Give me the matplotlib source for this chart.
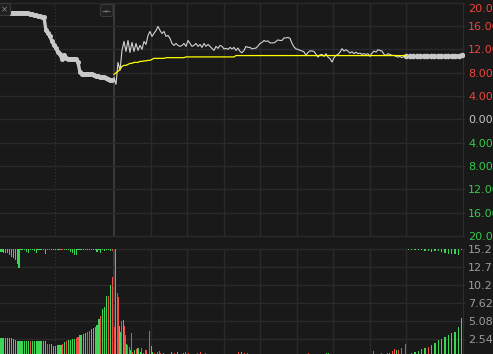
import numpy as np
import matplotlib
matplotlib.use("Agg")
import matplotlib.pyplot as plt
from matplotlib.patches import FancyBboxPatch
from matplotlib.transforms import blended_transform_factory, ScaledTranslation

# ---------------- data ----------------
# price change (%) during the opening call auction 9:15-9:25
auction_pct = [18.24, 18.24, 18.24, 18.24, 18.24, 18.24, 18.24, 18.24, 18.24, 18.24,
               18.24, 18.24, 18.21, 18.21, 18.15, 18.03, 17.95, 17.86, 17.78, 17.69,
               17.61, 17.52, 17.44, 15.21, 14.70, 14.19, 13.33, 12.65, 12.14, 11.45,
               11.11, 10.26, 10.94, 10.43, 10.38, 10.38, 10.38, 10.38, 10.38, 9.74,
               8.03, 7.78, 7.78, 7.78, 7.78, 7.69, 7.69, 7.61, 7.44, 7.35,
               7.26, 7.18, 7.18, 7.01, 6.84, 6.75, 6.67]

# price change (%) during continuous trading (9:30-15:00)
session_pct = [7.18, 5.98, 9.74, 8.38, 11.79, 13.33, 11.62, 13.50, 11.45, 13.16,
               11.62, 12.99, 11.79, 12.65, 11.97, 13.33, 12.82, 14.36, 15.04, 14.19,
               14.70, 15.21, 15.90, 15.21, 14.70, 15.04, 14.19, 14.36, 13.85, 12.99,
               12.65, 12.99, 12.65, 12.48, 12.65, 12.99, 12.48, 13.50, 12.99, 12.48,
               12.65, 12.99, 12.48, 12.82, 12.31, 12.99, 12.48, 12.82, 12.48, 12.14,
               11.79, 12.48, 12.14, 12.65, 12.48, 12.05, 12.14, 11.97, 12.31, 12.05,
               12.31, 11.79, 12.19, 11.62, 11.40, 11.79, 12.48, 12.31, 12.31, 12.05,
               12.14, 12.19, 12.56, 12.99, 13.16, 13.50, 13.33, 13.42, 13.08, 13.08,
               13.08, 13.33, 13.59, 13.50, 13.50, 13.93, 13.93, 14.02, 13.85, 12.99,
               12.39, 12.05, 11.97, 11.79, 11.71, 11.54, 10.94, 11.45, 11.71, 11.71,
               11.62, 11.11, 10.65, 11.03, 11.11, 10.77, 11.23, 10.65, 10.38, 9.79,
               10.55, 10.94, 11.11, 11.50, 12.09, 11.68, 11.91, 11.68, 11.33, 11.57,
               11.23, 11.50, 11.23, 11.33, 11.11, 11.23, 11.11, 11.23, 10.77, 11.33,
               11.68, 11.50, 11.91, 11.79, 11.68, 11.11, 10.94, 11.23, 11.11, 10.94,
               10.94, 10.77, 10.65, 10.77, 10.55, 10.77, 10.89]

# average price change (%) during continuous trading
session_avg = ([7.69, 7.95, 8.21, 8.55, 9.06, 9.23, 9.23, 9.40, 9.57, 9.57,
                9.74, 9.74, 9.74, 9.91, 9.91, 10.00, 10.00, 10.09, 10.09, 10.26,
                10.43, 10.43, 10.43, 10.43, 10.43, 10.43]
               + [10.55] * 10 + [10.68] * 25 + [10.91] * 86)

# price change (%) during the closing call auction
close_pct = [10.77, 10.77, 10.77, 10.77, 10.77, 10.77, 10.77, 10.77, 10.77, 10.77,
             10.77, 10.77, 10.77, 10.77, 10.85, 10.89, 10.94]

# opening auction: matched volume, direction, unmatched volume
auction_vol = [2.64, 2.64, 2.64, 2.64, 2.64, 2.64, 2.6, 2.45, 2.4, 2.2,
               2.2, 2.2, 2.2, 2.2, 2.2, 2.2, 2.2, 2.2, 2.2, 2.2,
               2.2, 2.2, 2.2, 2.2, 2.2, 1.8, 1.8, 1.8, 1.55, 1.55,
               1.6, 1.6, 1.65, 1.75, 2.1, 2.2, 2.3, 2.4, 2.45, 2.5,
               2.7, 2.82, 3.1, 3.1, 3.2, 3.3, 3.5, 3.67, 3.9, 4.0,
               4.2, 4.5, 5.3, 5.7, 6.7, 7.05, 8.6, 8.6, 10.1, 11.3]
auction_dir = "ggggggggggggggggrggggggggrrggggggrgrggggrrggggrrgggggrgggrgr"
auction_unmatched = [0.4, 0.4, 0.6, 0.6, 0.6, 0.9, 1.15, 1.3, 1.6, 2.15,
                     2.7, 0.15, 0.15, 0.15, 0.4, 0.65, 0.15, 0.15, 0.3, 0.55,
                     0.15, 0.15, 0.15, 0.15, 0.7, 0.15, 0.15, 0.15, 0.15, 0.15,
                     0.15, 0.15, 0.15, 0.15, 0.15, 0.15, 0.15, 0.4, 0.55, 0.85,
                     0.85, 0.15, 0.15, 0.15, 0.15, 0.15, 0.15, 0.15, 0.15, 0.15,
                     0.15, 0.4, 0.15, 0.55, 0.15, 0.3, 0.15, 0.15, 0.3, 0.3]
auction_unmatched_dir = "gggggggggggggggggggggggggrrgggggrrgggggggggggggggggggggggggr"

# continuous trading: one bar per minute
session_vol = [4.15, 15.2, 9.0, 8.4, 4.3, 3.5, 5.0, 5.2, 4.4, 3.06, 1.8, 1.7, 1.4, 1.0, 3.3, 0.6, 0.9, 0.3, 1.1, 1.2,
               1.2, 0.7, 1.2, 0.3, 0.5, 1.0, 1.0, 0.3, 0.3, 3.6, 1.5, 0.6, 0.3, 0.56, 0.3, 0.66, 0.3, 0.85, 0.56, 0.3,
               0.56, 0.3, 0.2, 0.3, 0.2, 0.3, 0.2, 0.6, 0.3, 0.56, 0.2, 0.3, 0.7, 0.2, 0.3, 0.2, 0.3, 0.56, 0.66, 0.2,
               0.3, 0.56, 0.2, 0.3, 0.2, 0.2, 0.3, 0.2, 0.56, 0.3, 0.2, 0.66, 0.2, 0.3, 0.2, 0.56, 0.2, 0.3, 0.2, 0.2,
               0.3, 0.2, 0.2, 0.3, 0.2, 0.2, 0.3, 0.2, 0.2, 0.3, 0.2, 0.2, 0.3, 0.2, 0.2, 0.3, 0.2, 0.2, 0.3, 0.2,
               0.2, 0.3, 0.66, 0.2, 0.66, 0.3, 0.2, 0.47, 0.2, 0.5, 0.2, 0.3, 0.2, 0.2, 0.3, 0.2, 0.2, 0.3, 0.2, 0.2,
               0.3, 0.2, 0.2, 0.3, 0.2, 0.2, 0.3, 0.2, 0.2, 0.3, 0.2, 0.2, 0.3, 0.2, 0.2, 0.3, 0.2, 0.2, 0.3, 0.2,
               0.2, 0.3, 0.2, 0.2, 0.3, 0.2, 0.2, 0.3, 0.2, 0.2, 0.3, 0.2, 0.2, 0.3, 0.2, 0.2, 0.3, 0.2, 0.2, 0.56,
               0.2, 0.3, 0.2, 0.2, 0.3, 0.2, 0.2, 0.3, 0.2, 0.2, 0.3, 0.2, 0.2, 0.3, 0.56, 0.2, 0.56, 0.3, 0.2, 0.2,
               0.3, 0.2, 0.2, 0.3, 0.2, 0.2, 0.3, 0.2, 0.2, 0.3, 0.2, 0.2, 0.3, 0.2, 0.2, 0.3, 0.2, 0.2, 0.3, 0.2,
               0.2, 0.3, 0.2, 0.2, 0.3, 0.2, 0.2, 0.3, 0.2, 0.2, 0.3, 0.2, 0.2, 0.8, 0.2, 0.3, 0.2, 0.2, 0.3, 0.47,
               0.2, 0.3, 0.2, 0.3, 0.56, 0.3, 0.47, 0.3, 0.85, 0.3, 1.09, 0.3, 0.9, 0.94, 0.3, 0.3, 1.27, 0.3, 0.3, 1.79]
session_dir = ("rgrrggrgrrgrrgrrggrg" "ggrrrrrgrrggrrgrgrrg" "grgrgrggrrgrgrgrggrg"
               "rrgrgrgrrgrrgrgrgrgr" "rgrgrgrgrgrgrgrgrgrg" "rgrgggrrgrgrgrgrgrgr"
               "rgrgrgrgrgrgrgrgrgrg" "grgrgrgrgrgrgrgrgrgr" "rgrgrgrgrgrgrggrgrgr"
               "rgrgrgrgrgrgrgrgrgrg" "grgrgrgrgrgrgrgrgrgr" "rgrgrggrrgrggrgrrgrr")

# closing auction
close_vol = [0.4, 0.47, 0.66, 0.85, 1.04, 1.18, 1.41, 1.65, 1.98, 2.36,
             2.5, 2.82, 3.06, 3.3, 3.53, 4.15, 5.42]
close_dir = "ggggggrgggggggggg"
close_unmatched = [0.15, 0.15, 0.15, 0.15, 0.15, 0.3, 0.35, 0.4, 0.3, 0.35,
                   0.4, 0.6, 0.7, 0.75, 0.8, 0.9, 0.2]

pct_ticks = [20, 16, 12, 8, 4, 0, -4, -8, -12, -16, -20]
vol_step = 2.54
vol_ticks = [vol_step * k for k in range(1, 7)]

# ---------------- layout / style ----------------
W, H = 493, 354
PLOT_R = 464          # right edge of plotting area (px)
AUC_END = 114         # start of continuous session
SES_END = 406         # start of closing auction
PRICE_TOP, PRICE_BOT = 2.5, 236
VOL_TOP_PX = 248.7
VOL_PX_PER_STEP = 18

BG = "#191919"
GRID = "#2a2a2a"
RED = "#f24a45"
GREEN = "#3bd656"
LABEL_RED = "#f0443c"
LABEL_GREEN = "#35c94a"

fig = plt.figure(figsize=(W / 100, H / 100), dpi=100, facecolor=BG)

axp = fig.add_axes([0, (H - PRICE_BOT) / H, PLOT_R / W, (PRICE_BOT - PRICE_TOP) / H])
vol_top = vol_ticks[-1]
vol_bot = vol_top - (H - VOL_TOP_PX) * vol_step / VOL_PX_PER_STEP
axv = fig.add_axes([0, 0, PLOT_R / W, (H - VOL_TOP_PX) / H])

for ax in (axp, axv):
    ax.set_facecolor(BG)
    ax.set_xlim(0, PLOT_R)
    for s in ax.spines.values():
        s.set_visible(False)
    ax.set_xticks([])
    ax.set_yticks([])

axp.set_ylim(pct_ticks[-1], pct_ticks[0])
axv.set_ylim(vol_bot, vol_top)

# grids
half_hour = (SES_END - AUC_END) / 8
vlines = [AUC_END + k * half_hour for k in range(1, 9)]
for ax in (axp, axv):
    for xv in vlines:
        ax.axvline(xv, color=GRID, lw=1.0, zorder=1)
    ax.axvline(AUC_END, color="#3a3a3a", lw=1.4, zorder=1)
    ax.axvline(AUC_END / 2 - 2, color="#363636", lw=0.8, ls=(0, (1, 2)), zorder=1)
    ax.axvline(PLOT_R - 0.5, color="#333333", lw=1.2, zorder=1)
for t in pct_ticks:
    axp.axhline(t, color=GRID, lw=1.0, zorder=1, clip_on=False)
for t in vol_ticks:
    axv.axhline(t, color=GRID, lw=1.0, zorder=1, clip_on=False)

# price lines
n_a = len(auction_pct)
xa = np.linspace(0, AUC_END - 2, n_a)
axp.plot(xa, auction_pct, color="#c8c8c8", lw=2.4, marker="o", ms=2.6,
         solid_capstyle="round", zorder=3)
xs = np.linspace(AUC_END, SES_END, len(session_pct))
axp.plot(xs, session_pct, color="#d2d2d2", lw=0.8, zorder=4)
axp.plot(np.linspace(AUC_END, SES_END, len(session_avg)), session_avg,
         color="#ffff00", lw=0.9, zorder=5)
xc = np.linspace(SES_END, PLOT_R - 2, len(close_pct))
axp.plot(xc, close_pct, color="#c8c8c8", lw=1.6, marker="o", ms=3.0, zorder=3)

# volume bars
def col(c):
    return RED if c == "r" else GREEN

bar_kw = dict(zorder=3, linewidth=0, antialiased=False)
xav = np.linspace(0, AUC_END - 1.7, len(auction_vol))
axv.bar(xav, auction_vol, width=1.2, color=[col(c) for c in auction_dir], **bar_kw)
axv.bar(xav, [-v for v in auction_unmatched], width=1.2, bottom=vol_top,
        color=[col(c) for c in auction_unmatched_dir], **bar_kw)

mins = np.arange(len(session_vol))
xsv = AUC_END + (mins + 0.5) * (SES_END - AUC_END) / len(session_vol)
axv.bar(xsv, session_vol, width=1.0, color=[col(c) for c in session_dir], **bar_kw)

xcv = np.linspace(SES_END + 2.3, PLOT_R - 2.3, len(close_vol))
axv.bar(xcv, close_vol, width=1.5, color=[col(c) for c in close_dir], **bar_kw)
axv.bar(xcv, [-v for v in close_unmatched], width=1.5, bottom=vol_top,
        color=GREEN, **bar_kw)

# right-hand labels
lab_x = 468 / PLOT_R
trp = blended_transform_factory(axp.transAxes, axp.transData)
trv = blended_transform_factory(axv.transAxes, axv.transData)
down = ScaledTranslation(0, -1 / 100, fig.dpi_scale_trans)
for t in pct_ticks:
    c = LABEL_RED if t > 0 else (LABEL_GREEN if t < 0 else "#c4c4c4")
    off = ScaledTranslation(0, -6.5 / 100, fig.dpi_scale_trans) if t == pct_ticks[0] else down
    axp.text(lab_x, t, f"{abs(t):.2f}%", color=c, fontsize=8, ha="left", va="center",
             transform=trp + off, clip_on=False)
for t in vol_ticks:
    off = ScaledTranslation(0, -1.5 / 100, fig.dpi_scale_trans)
    axv.text(lab_x, t, f"{t:.3g}", color="#9c9c9c", fontsize=8, ha="left", va="center",
             transform=trv + off, clip_on=False)

# small toolbar icons (overlay in pixel coordinates)
ov = fig.add_axes([0, 0, 1, 1], zorder=10)
ov.set_xlim(0, W)
ov.set_ylim(H, 0)
ov.axis("off")
ov.patch.set_alpha(0)
for (bx, by, bw, bh, txt) in [(-4, 3.5, 14.5, 12, "×"), (100.5, 4.5, 12.5, 12, "→←")]:
    ov.add_patch(FancyBboxPatch((bx, by), bw, bh, boxstyle="round,pad=0,rounding_size=2",
                                facecolor="#202020", edgecolor="#3a3a3a", lw=0.8))
    ov.text(bx + bw / 2 + (1.5 if txt == "×" else 0), by + bh / 2, txt, color="#8a8a8a",
            fontsize=6 if txt == "×" else 4.2, ha="center", va="center")

fig.savefig("out.png", dpi=100, facecolor=BG)
